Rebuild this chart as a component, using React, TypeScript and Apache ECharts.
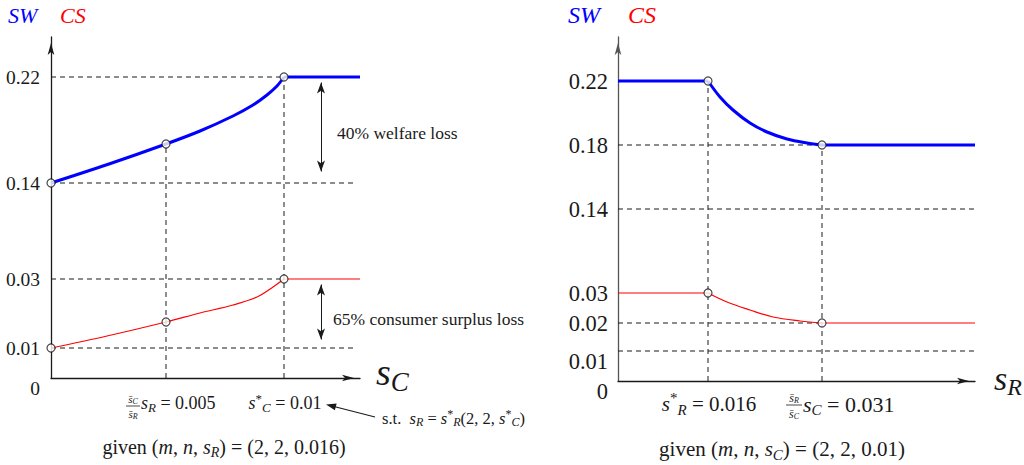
import React, { useEffect, useRef } from "react";
import * as echarts from "echarts";

const SERIF = "Liberation Serif";
const INK = "#1a1a1a";
const BLUE = "#0000ff";
const RED = "#ff0000";

// ---------- Left panel (schematic levels, SW / CS against s_C) ----------
const leftTickLabels = ["0", "0.01", "0.03", "0.14", "0.22"];
const leftTickLevels = [0, 30, 99, 195, 301];
const leftXMax = 309;
const leftYMax = 341;
const leftSWCurve = [[0, 195], [58, 214], [115, 234], [149, 247], [182, 262], [202, 273], [216, 283], [226, 292], [233, 301]];
const leftSWFlat = [[233, 301], [309, 301]];
const leftCSCurve = [[0, 30], [56, 42], [115, 56], [149, 65], [182, 73], [206, 81], [222, 91], [233, 99]];
const leftCSFlat = [[233, 99], [309, 99]];
const leftMarkers = [[0, 195], [115, 234], [233, 301], [0, 30], [115, 56], [233, 99]];
const leftGuides = [
  [[0, 301], [233, 301]],
  [[0, 195], [304, 195]],
  [[0, 99], [233, 99]],
  [[0, 30], [304, 30]],
  [[115, 0], [115, 234]],
  [[233, 0], [233, 301]],
];
const leftLossArrows = [
  [[270, 295.5], [270, 206.5]],
  [[270, 93.5], [270, 38.5]],
];

// ---------- Right panel (schematic levels, SW / CS against s_R) ----------
const rightTickLabels = ["0", "0.01", "0.02", "0.03", "0.14", "0.18", "0.22"];
const rightTickLevels = [0, 30, 58, 88, 172, 236, 300];
const rightXMax = 357;
const rightYMax = 344;
const rightSWLeft = [[0, 300], [90, 300]];
const rightSWCurve = [[90, 300], [102, 284], [115, 271], [132, 258], [149, 249], [169, 242], [189, 238], [204, 236]];
const rightSWRight = [[204, 236], [357, 236]];
const rightCSLeft = [[0, 88], [90, 88]];
const rightCSCurve = [[90, 88], [109, 79], [132, 71], [155, 64], [182, 60], [204, 58]];
const rightCSRight = [[204, 58], [357, 58]];
const rightMarkers = [[90, 300], [204, 236], [90, 88], [204, 58]];
const rightGuides = [
  [[0, 236], [204, 236]],
  [[0, 172], [357, 172]],
  [[0, 58], [204, 58]],
  [[0, 30], [357, 30]],
  [[90, 0], [90, 300]],
  [[204, 0], [204, 236]],
];

function richSet(fs: number, color: string) {
  const small = Math.round(fs * 0.7);
  return {
    n: { fontSize: fs, fontFamily: SERIF, fill: color },
    i: { fontSize: fs, fontFamily: SERIF, fontStyle: "italic", fill: color },
    sb: {
      fontSize: small,
      fontFamily: SERIF,
      fontStyle: "italic",
      fill: color,
      padding: [Math.round(fs * 0.5), 0, 0, 0],
    },
    sp: {
      fontSize: small,
      fontFamily: SERIF,
      fill: color,
      padding: [0, 0, Math.round(fs * 0.55), 0],
    },
  };
}

function rt(x: number, y: number, text: string, fs: number, align = "left", color = INK) {
  return {
    type: "text",
    x,
    y,
    silent: true,
    z: 100,
    style: {
      text,
      align,
      verticalAlign: "middle",
      fontSize: fs,
      fontFamily: SERIF,
      fill: color,
      rich: richSet(fs, color),
    },
  };
}

function hline(x1: number, y1: number, x2: number, y2: number, w = 1, color = INK) {
  return { type: "line", silent: true, z: 100, shape: { x1, y1, x2, y2 }, style: { stroke: color, lineWidth: w } };
}

function axisLine(color: string, w: number) {
  return {
    show: true,
    onZero: false,
    symbol: ["none", "arrow"],
    symbolSize: [5, 12],
    symbolOffset: [0, -6],
    lineStyle: { color, width: w },
  };
}

function seg(idx: number, data: number[][], lineStyle: any, z: number, extra: any = {}) {
  return {
    type: "line",
    xAxisIndex: idx,
    yAxisIndex: idx,
    data,
    symbol: "none",
    showSymbol: false,
    silent: true,
    clip: false,
    lineStyle,
    z,
    ...extra,
  };
}

const dash = { color: INK, width: 1, type: [5, 4] };

function panelSeries(idx: number, curves: { data: number[][]; color: string; width: number; smooth: boolean }[], guides: number[][][], markers: number[][], arrows: number[][][]) {
  const out: any[] = [];
  guides.forEach((g) => out.push(seg(idx, g, dash, 1)));
  curves.forEach((c) =>
    out.push(seg(idx, c.data, { color: c.color, width: c.width }, 3, c.smooth ? { smooth: 0.35 } : {}))
  );
  if (arrows.length) {
    out.push(
      seg(idx, [], { width: 0 }, 4, {
        markLine: {
          silent: true,
          symbol: ["arrow", "arrow"],
          symbolSize: [6, 11],
          label: { show: false },
          lineStyle: { color: INK, width: 1, type: "solid" },
          data: arrows.map((a) => [{ coord: a[0] }, { coord: a[1] }]),
        },
      })
    );
  }
  out.push({
    type: "scatter",
    xAxisIndex: idx,
    yAxisIndex: idx,
    data: markers,
    symbol: "circle",
    symbolSize: 8,
    silent: true,
    itemStyle: { color: "#ffffff", borderColor: INK, borderWidth: 1.2 },
    z: 6,
  });
  return out;
}

function yAxisFor(idx: number, max: number, levels: number[], labels: string[], fs: number, lineColor: string, margin: number, shifted: string[]) {
  return {
    gridIndex: idx,
    type: "value",
    min: 0,
    max,
    axisLine: axisLine(lineColor, 1.3),
    axisTick: { show: false },
    splitLine: { show: false },
    axisLabel: {
      show: true,
      customValues: levels,
      margin,
      fontSize: fs,
      fontFamily: SERIF,
      color: INK,
      formatter: (v: number) => {
        const i = levels.indexOf(v);
        const t = i >= 0 ? labels[i] : "";
        return shifted.indexOf(t) >= 0 ? "{z|" + t + "}" : t;
      },
      rich: { z: { fontSize: fs, fontFamily: SERIF, color: INK, padding: [20, 0, 0, 0] } },
    },
  };
}

function xAxisFor(idx: number, max: number) {
  return {
    gridIndex: idx,
    type: "value",
    min: 0,
    max,
    axisLine: axisLine(INK, 1.3),
    axisTick: { show: false },
    axisLabel: { show: false },
    splitLine: { show: false },
  };
}

function buildOption() {
  const series = [
    ...panelSeries(
      0,
      [
        { data: leftSWCurve, color: BLUE, width: 3, smooth: true },
        { data: leftSWFlat, color: BLUE, width: 3, smooth: false },
        { data: leftCSCurve, color: RED, width: 1.2, smooth: true },
        { data: leftCSFlat, color: RED, width: 1.2, smooth: false },
      ],
      leftGuides,
      leftMarkers,
      leftLossArrows
    ),
    ...panelSeries(
      1,
      [
        { data: rightSWLeft, color: BLUE, width: 3, smooth: false },
        { data: rightSWCurve, color: BLUE, width: 3, smooth: true },
        { data: rightSWRight, color: BLUE, width: 3, smooth: false },
        { data: rightCSLeft, color: RED, width: 1.2, smooth: false },
        { data: rightCSCurve, color: RED, width: 1.2, smooth: true },
        { data: rightCSRight, color: RED, width: 1.2, smooth: false },
      ],
      rightGuides,
      rightMarkers,
      []
    ),
  ];

  const graphic = [
    // axis titles
    rt(8, 15, "{i|SW}", 22, "left", BLUE),
    rt(60, 15, "{i|CS}", 22, "left", RED),
    rt(568, 15, "{i|SW}", 24, "left", BLUE),
    rt(628, 15, "{i|CS}", 24, "left", RED),
    rt(376, 372, "{i|s}{sb|C}", 38),
    rt(994, 378, "{i|s}{sb|R}", 34),
    // loss annotations
    rt(337, 133, "{n|40% welfare loss}", 17.5),
    rt(333, 319, "{n|65% consumer surplus loss}", 17.5),
    // left x labels
    rt(133, 398.5, "{i|s\u0304}{sb|C}", 11, "center"),
    hline(126, 406, 140, 406, 0.8),
    rt(133, 413.5, "{i|s\u0304}{sb|R}", 11, "center"),
    rt(141, 403, "{i|s}{sb|R}{n| = 0.005}", 18),
    rt(285, 403, "{i|s}{sp|*}{sb|C}{n| = 0.01}", 18, "center"),
    hline(375, 417, 332, 406, 1.2),
    {
      type: "polygon",
      silent: true,
      z: 100,
      shape: { points: [[326, 404.5], [336.6, 403.5], [334.9, 410.3]] },
      style: { fill: INK },
    },
    rt(382, 418, "{n|s.t.  }{i|s}{sb|R}{n| = }{i|s}{sp|*}{sb|R}{n|(2, 2, }{i|s}{sp|*}{sb|C}{n|)}", 16.5),
    rt(224, 447, "{n|given (}{i|m}{n|, }{i|n}{n|, }{i|s}{sb|R}{n|) = (2, 2, 0.016)}", 20, "center"),
    // right x labels
    rt(709, 404, "{i|s}{sp|*}{sb|R}{n| = 0.016}", 21, "center"),
    rt(794, 397.5, "{i|s\u0304}{sb|R}", 12, "center"),
    hline(786, 405, 802, 405, 0.8),
    rt(794, 413.5, "{i|s\u0304}{sb|C}", 12, "center"),
    rt(803, 404, "{i|s}{sb|C}{n| = 0.031}", 22),
    rt(782, 449, "{n|given (}{i|m}{n|, }{i|n}{n|, }{i|s}{sb|C}{n|) = (2, 2, 0.01)}", 21, "center"),
  ];

  return {
    animation: false,
    backgroundColor: "#ffffff",
    grid: [
      { left: 51, top: 37, width: leftXMax, height: leftYMax },
      { left: 618, top: 37, width: rightXMax, height: rightYMax },
    ],
    xAxis: [xAxisFor(0, leftXMax), xAxisFor(1, rightXMax)],
    yAxis: [
      yAxisFor(0, leftYMax, leftTickLevels, leftTickLabels, 19.5, INK, 11, ["0"]),
      yAxisFor(1, rightYMax, rightTickLevels, rightTickLabels, 22.5, "#555555", 10, ["0", "0.01"]),
    ],
    series,
    graphic,
  };
}

export default function App() {
  const ref = useRef<HTMLDivElement>(null);
  useEffect(() => {
    const chart = echarts.init(ref.current as HTMLDivElement, null, { renderer: "svg" });
    chart.setOption(buildOption() as any);
    return () => chart.dispose();
  }, []);
  return (
    <div
      ref={ref}
      style={{ position: "absolute", left: 0, top: 0, width: 1024, height: 465, background: "#fff" }}
    />
  );
}
